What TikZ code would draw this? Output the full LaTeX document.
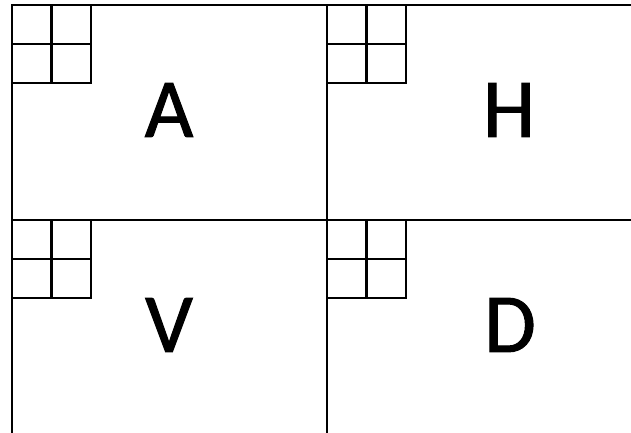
\documentclass[tikz,border=0pt]{standalone}
\usepackage{fontspec}
\newfontfamily\quadfont[UprightFeatures={FakeBold=1.2}]{Carlito}
\usetikzlibrary{positioning}

\begin{document}
\begin{tikzpicture}[
    x=1pt, y=-1pt,
    edge/.style={line width=2.4pt, line cap=rect},
    cell/.style={line width=2.4pt},
    band/.style={font=\quadfont\fontsize{84}{84}\selectfont, inner sep=0pt},
  ]
  \useasboundingbox (0,0) rectangle (631,433);

  % ============================================================
  % Quadrant borders
  % ============================================================
  \coordinate (tl) at (12,5);
  \coordinate (tm) at (327,5);
  \coordinate (ml) at (12,220);
  \coordinate (mm) at (327,220);
  \draw[edge] (tl) -- (631,5);
  \draw[edge] (ml) -- (631,220);
  \draw[edge] (tl) -- (12,433);
  \draw[edge] (tm) -- (327,433);

  % ============================================================
  % Small 2x2 grids in each corner
  % ============================================================
  \foreach \c in {tl, tm, ml, mm} {
    \draw[cell] (\c) rectangle ++(79,78);
    \draw[cell] (\c) ++(39.5,0) -- ++(0,78);
    \draw[cell] (\c) ++(0,39) -- ++(79,0);
  }

  % ============================================================
  % Sub-band labels
  % ============================================================
  \node[band] (bandA) at (169,110) {A};
  \node[band] (bandH) at (509,110) {H};
  \node[band] (bandV) at (169,325) {V};
  \node[band] (bandD) at (510,325) {D};

\end{tikzpicture}
\end{document}
